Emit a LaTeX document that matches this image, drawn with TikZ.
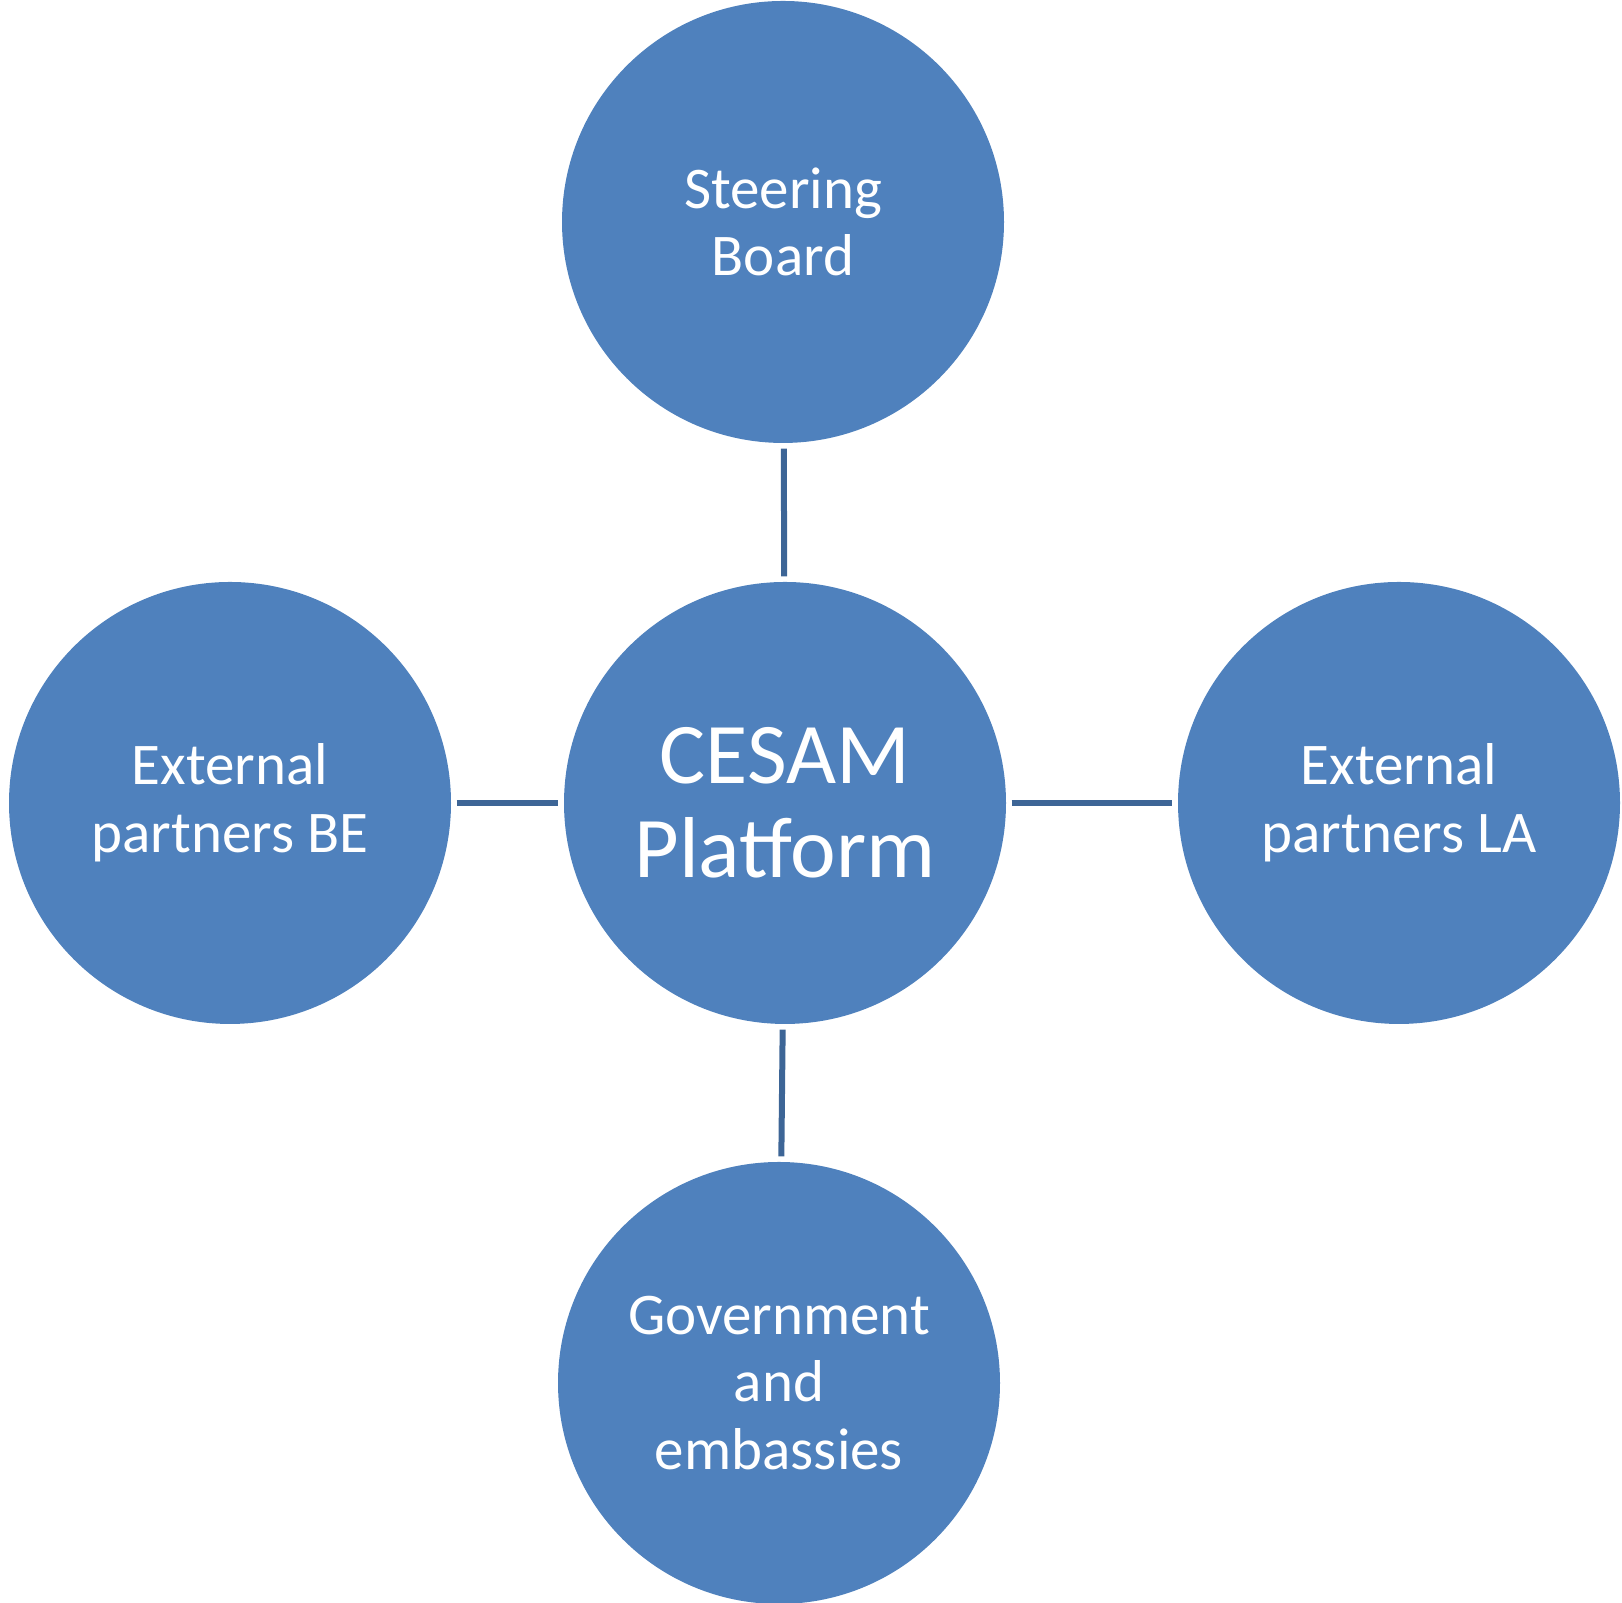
\documentclass[tikz,border=0pt]{standalone}
\usepackage{fontspec}
\setmainfont{Carlito}
\usepackage{tikz}
\usetikzlibrary{positioning, calc}
\usepackage{xcolor}
\definecolor{circblue}{HTML}{4F81BD}
\definecolor{linkblue}{HTML}{3D6596}

\begin{document}
\begin{tikzpicture}[
    party/.style={circle, fill=circblue, text=white, align=center, inner sep=0pt, minimum size=4.42cm, font=\fontsize{16.8}{19.2}\selectfont},
    link/.style={linkblue, line width=0.6mm, shorten <=0.05cm, shorten >=0.05cm}]
      \useasboundingbox (0, 0) rectangle (16.22, 16.03);

      \node[party, font=\fontsize{24.6}{26.6}\selectfont] (cesam) at (7.85, 8.00) {CESAM\\Platform};
      \node[party] (steer) at (7.83, 13.81) {Steering\\Board};
      \node[party] (extbe) at (2.30, 8.00) {External\\partners BE};
      \node[party] (extla) at (13.99, 8.00) {External\\partners LA};
      \node[party] (gov) at (7.79, 2.20) {Government\\and\\embassies};

      \draw[link] (steer) -- (cesam);
      \draw[link] (extbe) -- (cesam);
      \draw[link] (cesam) -- (extla);
      \draw[link] (cesam) -- (gov);

    \end{tikzpicture}
\end{document}
